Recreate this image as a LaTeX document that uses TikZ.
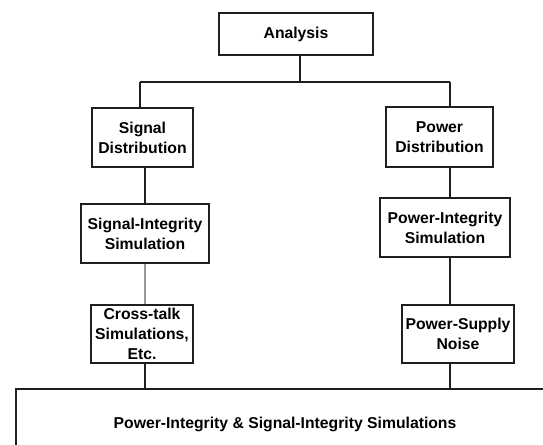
\documentclass[tikz,border=0pt]{standalone}
\usepackage{fontspec}
\setmainfont{Liberation Sans}
\begin{document}
\begin{tikzpicture}[x=0.75pt,y=-0.75pt,
  box/.style={draw=black!88,line width=1.5pt,fill=white,align=center,inner sep=0pt,
    font=\bfseries\fontsize{11.8}{15}\selectfont},
  conn/.style={draw=black!88,line width=1.5pt},
  greyconn/.style={draw=black!40,line width=1.2pt}]
\useasboundingbox (0,0) rectangle (543,445);
\clip (0,0) rectangle (543,445);
\node[box,minimum width=154*0.75pt,minimum height=42*0.75pt] (A) at (296,34) {Analysis};
\node[box,minimum width=101*0.75pt,minimum height=59*0.75pt] (SD) at (142.5,137.5) {Signal\\Distribution};
\node[box,minimum width=128*0.75pt,minimum height=59*0.75pt] (SIS) at (145,233.5) {Signal-Integrity\\Simulation};
\node[box,minimum width=102*0.75pt,minimum height=58*0.75pt] (CT) at (142,334) {Cross-talk\\Simulations,\\Etc.};
\node[box,minimum width=107*0.75pt,minimum height=60*0.75pt] (PD) at (439.5,137) {Power\\Distribution};
\node[box,minimum width=130*0.75pt,minimum height=59*0.75pt] (PIS) at (445,227.5) {Power-Integrity\\Simulation};
\node[box,minimum width=112*0.75pt,minimum height=58*0.75pt] (PSN) at (458,334) {Power-Supply\\Noise};
\node[box,minimum width=544*0.75pt,minimum height=72*0.75pt] (B) at (288,425) {};
\node[font=\bfseries\fontsize{11.8}{15}\selectfont] (BT) at (285,424) {Power-Integrity \& Signal-Integrity Simulations};
\coordinate (hL) at (140,82);
\coordinate (hub) at (300,82);
\coordinate (hR) at (450,82);
\coordinate (cL) at (145,0);
\draw[conn] (hL) -- (hR);
\draw[conn] (hub) -- (hub |- A.south);
\draw[conn] (hL) -- (hL |- SD.north);
\draw[conn] (hR) -- (hR |- PD.north);
\draw[conn] (SD.south -| cL) -- (SIS.north -| cL);
\draw[greyconn] (SIS.south -| cL) -- (CT.north -| cL);
\draw[conn] (CT.south -| cL) -- (B.north -| cL);
\draw[conn] (PD.south -| hR) -- (PIS.north -| hR);
\draw[conn] (PIS.south -| hR) -- (PSN.north -| hR);
\draw[conn] (PSN.south -| hR) -- (B.north -| hR);
\end{tikzpicture}
\end{document}
